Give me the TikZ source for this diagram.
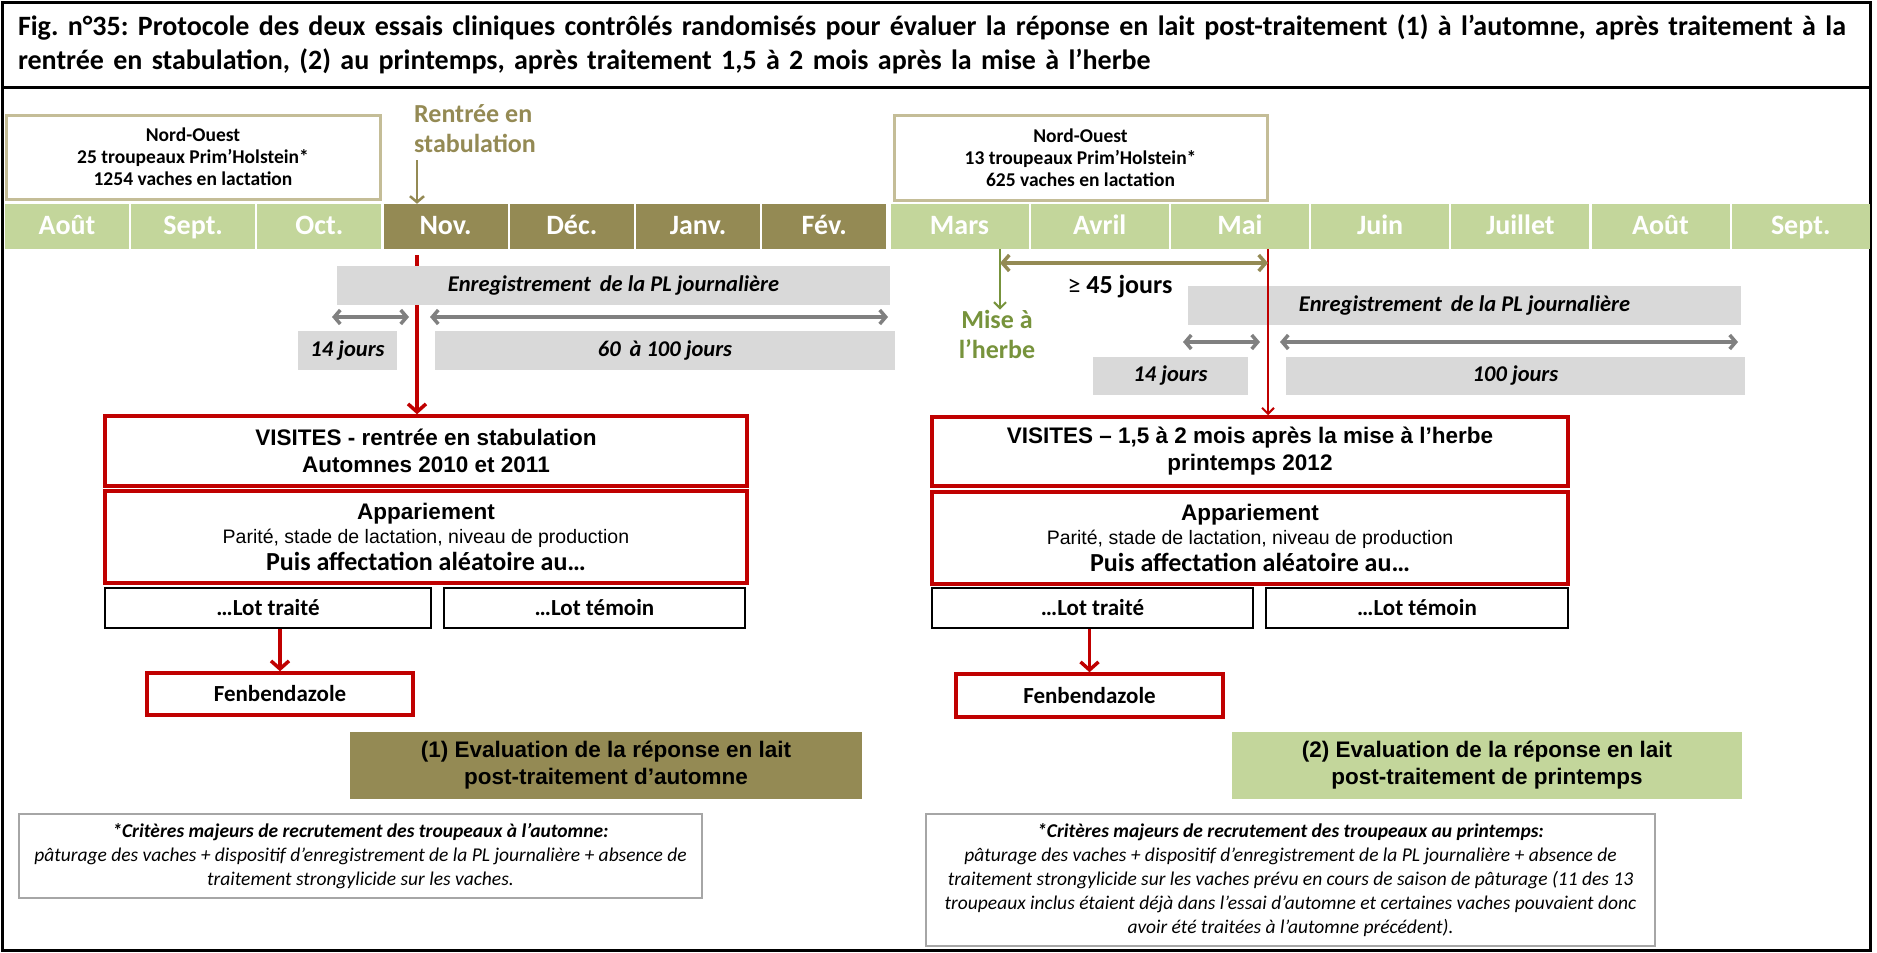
\documentclass[tikz,border=0pt]{standalone}
\usepackage{fontspec}
\setmainfont{Carlito}
\newfontfamily\arialfont{Liberation Sans}
\usetikzlibrary{arrows.meta,positioning}
\definecolor{leaf}{HTML}{C3D69B}
\definecolor{olive}{HTML}{948A54}
\definecolor{grass}{HTML}{77933C}
\definecolor{crimson}{HTML}{C00000}
\definecolor{fog}{HTML}{D9D9D9}
\definecolor{ash}{HTML}{808080}
\definecolor{sand}{HTML}{C4BD97}
\definecolor{rim}{HTML}{A6A6A6}
\tikzset{frame/.style={draw=black,line width=3pt}, month/.style={minimum height=45pt,inner sep=0pt,text height=22pt,text depth=6pt,text=white,font=\fontsize{28}{32}\selectfont\bfseries}, lmonth/.style={month,fill=leaf,minimum width=124pt}, wmonth/.style={month,fill=olive,minimum width=124pt}, rmonth/.style={month,fill=leaf,minimum width=138pt}, info/.style={draw=sand,line width=3pt,align=center,inner sep=0pt,font=\fontsize{19.5}{22}\selectfont\bfseries}, grey/.style={fill=fog,inner sep=0pt,minimum height=39pt,font=\fontsize{22.5}{26}\selectfont\bfseries\itshape}, visit/.style={draw=crimson,line width=3.5pt,align=center,inner sep=0pt,font=\arialfont\fontsize{22.5}{27}\selectfont\bfseries}, lot/.style={draw=black,line width=1.5pt,inner sep=0pt,minimum height=40pt,font=\fontsize{23}{26}\selectfont\bfseries}, fenb/.style={draw=crimson,line width=3.5pt,inner sep=0pt,minimum height=42pt,minimum width=266pt,font=\fontsize{23}{26}\selectfont\bfseries}, result/.style={align=center,inner sep=0pt,minimum height=67pt,font=\arialfont\fontsize{22.5}{27}\selectfont\bfseries}, crit/.style={draw=rim,line width=1.5pt,align=center,inner sep=0pt,font=\fontsize{19.5}{24}\selectfont\itshape}, span/.style={{Straight Barb[length=6pt,width=14pt]}-{Straight Barb[length=6pt,width=14pt]},line width=3.5pt,draw=ash}, drop/.style={-{Straight Barb[length=8pt,width=18pt]},line width=3.5pt,draw=crimson}, thinred/.style={-{Straight Barb[length=6pt,width=12pt]},line width=2pt,draw=crimson}, season/.style={align=center,inner sep=0pt,font=\fontsize{26}{30}\selectfont\bfseries}}

\begin{document}
\frenchspacing
\begin{tikzpicture}[x=1pt,y=-1pt]
\useasboundingbox (0,0) rectangle (1877,953);
% title and frame
\node[frame,minimum width=1868pt,minimum height=85pt,inner sep=0pt,text width=1836pt,align=left,font=\fontsize{28}{34}\selectfont\bfseries] (title) at (936,44.5) {Fig. n°35: Protocole des deux essais cliniques contrôlés randomisés pour évaluer la réponse en lait post-traitement (1) à l’automne, après traitement à la\\rentrée en stabulation, (2) au printemps, après traitement 1,5 à 2 mois après la mise à l’herbe};
\draw[frame] (2,87) rectangle (1870,950);
% herds
\node[info,minimum width=374pt,minimum height=84pt] (herdA) at (193,157) {Nord-Ouest\\25 troupeaux Prim’Holstein*\\1254 vaches en lactation};
\node[info,minimum width=373pt,minimum height=85pt] (herdB) at (1080.5,157.5) {Nord-Ouest\\13 troupeaux Prim’Holstein*\\625 vaches en lactation};
% months
\node[lmonth] (aug1) at (67,226.5) {Août};
\node[lmonth] (sep1) at (193.2,226.5) {Sept.};
\node[lmonth] (oct) at (319.4,226.5) {Oct.};
\node[wmonth] (nov) at (445.6,226.5) {Nov.};
\node[wmonth] (dec) at (571.8,226.5) {Déc.};
\node[wmonth] (jan) at (698,226.5) {Janv.};
\node[wmonth] (feb) at (824.2,226.5) {Fév.};
\node[rmonth] (mar) at (959.5,226.5) {Mars};
\node[rmonth] (apr) at (1099.7,226.5) {Avril};
\node[rmonth] (may) at (1239.9,226.5) {Mai};
\node[rmonth] (jun) at (1380.1,226.5) {Juin};
\node[rmonth] (jul) at (1520.3,226.5) {Juillet};
\node[rmonth] (aug2) at (1660.5,226.5) {Août};
\node[rmonth] (sep2) at (1800.7,226.5) {Sept.};
% autumn trial
\node[season,text=olive,align=left] (rentree) at (475,129) {Rentrée en\\stabulation};
\coordinate (stabtop) at (417,160);
\draw[-{Straight Barb[length=6pt,width=14pt]},line width=2.5pt,draw=olive] (stabtop) -- (stabtop |- nov.north);
\coordinate (stab) at (417,255);
\node[visit,minimum width=642pt,minimum height=70pt] (visA) at (426,451) {VISITES - rentrée en stabulation\\Automnes 2010 et 2011};
\draw[drop] (stab) -- (stab |- visA.north);
\node[grey,minimum width=553pt] (recA) at (613.5,285.5) {Enregistrement\, de la PL journalière};
\coordinate (a1) at (332,317); \coordinate (a2) at (409,317);
\coordinate (a3) at (430,317); \coordinate (a4) at (888,317);
\draw[span] (a1) -- (a2);
\draw[span] (a3) -- (a4);
\node[grey,minimum width=99pt] (preA) at (347.5,350.5) {14 jours};
\node[grey,minimum width=460pt] (postA) at (665,350.5) {60\, à 100 jours};
\node[visit,minimum width=642pt,minimum height=92pt] (pairA) at (426,537) {Appariement\\[-3pt]{\arialfont\mdseries\fontsize{19.5}{22}\selectfont Parité, stade de lactation, niveau de production}\\[0pt]{\rmfamily\fontsize{26}{26}\selectfont Puis affectation aléatoire au…}};
\node[lot,minimum width=326pt] (trtA) at (268,608) {…Lot traité};
\node[lot,minimum width=301pt] (ctlA) at (594.5,608) {…Lot témoin};
\node[fenb] (fenA) at (280,694) {Fenbendazole};
\draw[drop] (trtA.south -| fenA) -- (fenA.north);
\node[result,fill=olive,minimum width=512pt] (evalA) at (606,765.5) {(1) Evaluation de la réponse en lait\\post-traitement d’automne};
\node[crit,minimum width=683pt,minimum height=84pt] (critA) at (360.5,856) {\textbf{*Critères majeurs de recrutement des troupeaux à l’automne:}\\pâturage des vaches + dispositif d’enregistrement de la PL journalière + absence de\\traitement strongylicide sur les vaches.};
% spring trial
\coordinate (grass) at (1000,249);
\node[season,text=grass] (mise) at (997,334) {Mise à\\l’herbe};
\draw[-{Straight Barb[length=6pt,width=12pt]},line width=2pt,draw=grass] (grass) -- (mise.north -| grass);
\coordinate (graze) at (1268,249);
\node[visit,minimum width=636pt,minimum height=69pt] (visB) at (1250,451.5) {VISITES – 1,5 à 2 mois après la mise à l’herbe\\printemps 2012};
\node[grey,minimum width=553pt] (recB) at (1464.5,305.5) {Enregistrement\, de la PL journalière};
\draw[thinred] (graze) -- (graze |- visB.north);
\coordinate (g1) at (1000,263);
\draw[{Straight Barb[length=7pt,width=16pt]}-{Straight Barb[length=7pt,width=16pt]},line width=3.5pt,draw=olive] (g1) -- (g1 -| graze);
\node[font=\fontsize{26}{30}\selectfont\bfseries,inner sep=0pt] (delay) at (1120,287) {{\mdseries ≥} 45 jours};
\coordinate (b1) at (1183,342); \coordinate (b2) at (1260,342);
\coordinate (b3) at (1280,342); \coordinate (b4) at (1738,342);
\draw[span] (b1) -- (b2);
\draw[span] (b3) -- (b4);
\node[grey,minimum width=155pt,minimum height=38pt] (preB) at (1170.5,376) {14 jours};
\node[grey,minimum width=459pt,minimum height=38pt] (postB) at (1515.5,376) {100 jours};
\node[visit,minimum width=636pt,minimum height=92pt] (pairB) at (1250,538) {Appariement\\[-3pt]{\arialfont\mdseries\fontsize{19.5}{22}\selectfont Parité, stade de lactation, niveau de production}\\[0pt]{\rmfamily\fontsize{26}{26}\selectfont Puis affectation aléatoire au…}};
\node[lot,minimum width=321pt] (trtB) at (1092.5,608) {…Lot traité};
\node[lot,minimum width=302pt] (ctlB) at (1417,608) {…Lot témoin};
\node[fenb,minimum width=267pt,minimum height=43pt] (fenB) at (1089.5,695.5) {Fenbendazole};
\draw[drop] (trtB.south -| fenB) -- (fenB.north);
\node[result,fill=leaf,minimum width=510pt] (evalB) at (1487,765.5) {(2) Evaluation de la réponse en lait\\post-traitement de printemps};
\node[crit,minimum width=729pt,minimum height=132pt] (critB) at (1290.5,880) {\textbf{*Critères majeurs de recrutement des troupeaux au printemps:}\\pâturage des vaches + dispositif d’enregistrement de la PL journalière + absence de\\traitement strongylicide sur les vaches prévu en cours de saison de pâturage (11 des 13\\troupeaux inclus étaient déjà dans l’essai d’automne et certaines vaches pouvaient donc\\avoir été traitées à l’automne précédent).};
\end{tikzpicture}
\end{document}
